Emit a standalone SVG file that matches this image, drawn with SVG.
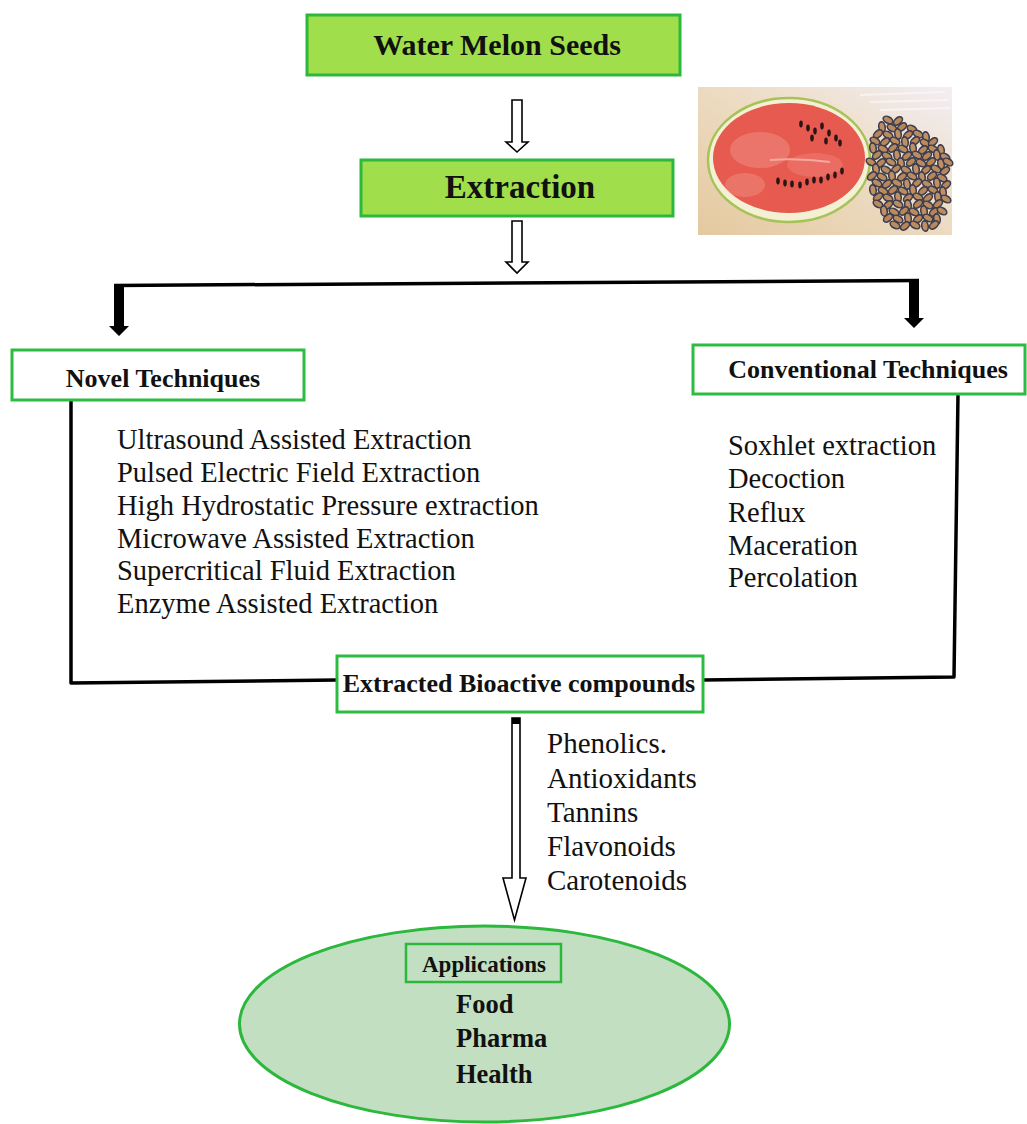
<svg xmlns="http://www.w3.org/2000/svg" xmlns:xlink="http://www.w3.org/1999/xlink" width="1027" height="1124" viewBox="0 0 1027 1124">
<style>
.t{font-family:"Liberation Serif","Times New Roman",serif;fill:#111}
.b{font-weight:bold}
.gbox{fill:#a0df4b;stroke:#2cb83c;stroke-width:3}
.obox{fill:#fff;stroke:#2cbd40;stroke-width:3}
.line{fill:none;stroke:#000;stroke-width:3.5;stroke-linejoin:round}
.hollow{fill:#fff;stroke:#000;stroke-width:1.6;stroke-linejoin:miter}
.solid{fill:#000}
</style>
<defs>
<linearGradient id="bg" x1="0" y1="1" x2="1" y2="0">
<stop offset="0" stop-color="#e4c99f"/>
<stop offset="0.55" stop-color="#eddcc4"/>
<stop offset="1" stop-color="#f3eef3"/>
</linearGradient>
<ellipse id="s1" rx="5.2" ry="3.2" transform="rotate(30)" fill="#bb8b60" stroke="#3d3d4d" stroke-width="1.6"/>
<ellipse id="s2" rx="5.2" ry="3.2" transform="rotate(-40)" fill="#b7865a" stroke="#3d3d4d" stroke-width="1.6"/>
<ellipse id="s3" rx="5.2" ry="3.2" transform="rotate(80)" fill="#c09064" stroke="#3d3d4d" stroke-width="1.6"/>
<ellipse id="ws" rx="1.8" ry="3.4" fill="#2a1414"/>
</defs>
<rect width="1027" height="1124" fill="#fff"/>

<g id="connectors">
<path class="hollow" d="M512,100 L522,100 L522,142 L528,142 L517,152 L506,142 L512,142 Z"/>
<path class="hollow" d="M512,221 L522,221 L522,262 L528,262 L517,273 L506,262 L512,262 Z"/>
<path class="line" d="M114,285.5 L919,280.5"/>
<path class="solid" d="M114,285 L124,285 L124,326 L129,326 L119,336 L109,326 L114,326 Z"/>
<path class="solid" d="M909,280 L919,280 L919,318 L924,318 L914,328 L904,318 L909,318 Z"/>
<path class="line" d="M71,400 L71,683 L337,680"/>
<path class="line" d="M958,394 L954,677 L703,680"/>
<path class="hollow" d="M512,718 L520,718 L520,878 L526,878 L514.5,920 L503,878 L512,878 Z" stroke-width="2"/>
<rect x="512" y="718" width="8" height="6" fill="#000"/>
</g>

<g id="node-seeds">
<rect class="gbox" x="307" y="15" width="373" height="60"/>
<text class="t b" x="497" y="55" font-size="30" text-anchor="middle">Water Melon Seeds</text>
</g>

<g id="node-extraction">
<rect class="gbox" x="361" y="160" width="312" height="56"/>
<text class="t b" x="520" y="198" font-size="33" text-anchor="middle">Extraction</text>
</g>

<g id="photo">
<rect x="698" y="87" width="254" height="148" fill="url(#bg)"/>
<path d="M860,95 L945,92 M870,102 L948,100 M880,110 L950,108" stroke="#fbf8fb" stroke-width="2" opacity="0.7"/>
<ellipse cx="789" cy="160" rx="81" ry="62" fill="#f3f0d4" stroke="#a8c25a" stroke-width="2.5"/>
<ellipse cx="789" cy="158" rx="76" ry="55" fill="#e65a4f"/>
<ellipse cx="760" cy="150" rx="30" ry="18" fill="#f08c84" opacity="0.55"/>
<ellipse cx="815" cy="165" rx="28" ry="12" fill="#ef8279" opacity="0.45"/>
<ellipse cx="745" cy="185" rx="20" ry="12" fill="#f29a90" opacity="0.4"/>
<path d="M770,160 Q800,158 830,162" stroke="#f5aaa0" stroke-width="2" fill="none"/>
<use href="#ws" x="801" y="124"/><use href="#ws" x="808" y="128"/><use href="#ws" x="815" y="131"/>
<use href="#ws" x="822" y="126"/><use href="#ws" x="829" y="133"/><use href="#ws" x="836" y="138"/>
<use href="#ws" x="812" y="138"/><use href="#ws" x="826" y="141"/><use href="#ws" x="840" y="143"/>
<use href="#ws" x="778" y="181"/><use href="#ws" x="785" y="183"/><use href="#ws" x="792" y="184"/>
<use href="#ws" x="800" y="185"/><use href="#ws" x="807" y="182"/><use href="#ws" x="814" y="180"/>
<use href="#ws" x="821" y="180"/><use href="#ws" x="828" y="177"/><use href="#ws" x="835" y="175"/>
<use href="#ws" x="842" y="171"/>
<g>
<use href="#s1" x="888" y="120"/><use href="#s2" x="898" y="121"/>
<use href="#s3" x="882" y="127"/><use href="#s1" x="892" y="128"/><use href="#s2" x="902" y="127"/><use href="#s1" x="912" y="129"/>
<use href="#s2" x="878" y="134"/><use href="#s1" x="888" y="135"/><use href="#s3" x="898" y="134"/><use href="#s2" x="908" y="135"/><use href="#s1" x="918" y="134"/><use href="#s3" x="926" y="137"/>
<use href="#s1" x="875" y="141"/><use href="#s2" x="885" y="142"/><use href="#s1" x="895" y="141"/><use href="#s3" x="905" y="142"/><use href="#s2" x="915" y="141"/><use href="#s1" x="925" y="143"/><use href="#s2" x="933" y="142"/>
<use href="#s3" x="873" y="148"/><use href="#s1" x="883" y="149"/><use href="#s2" x="893" y="148"/><use href="#s1" x="903" y="149"/><use href="#s3" x="913" y="148"/><use href="#s2" x="923" y="150"/><use href="#s1" x="933" y="149"/><use href="#s3" x="941" y="150"/>
<use href="#s2" x="877" y="155"/><use href="#s1" x="887" y="156"/><use href="#s3" x="897" y="155"/><use href="#s2" x="907" y="156"/><use href="#s1" x="917" y="155"/><use href="#s2" x="927" y="156"/><use href="#s3" x="937" y="155"/><use href="#s1" x="945" y="157"/>
<use href="#s1" x="871" y="162"/><use href="#s2" x="881" y="163"/><use href="#s1" x="891" y="162"/><use href="#s3" x="901" y="163"/><use href="#s2" x="911" y="162"/><use href="#s1" x="921" y="163"/><use href="#s2" x="931" y="162"/><use href="#s3" x="941" y="164"/><use href="#s1" x="948" y="162"/>
<use href="#s3" x="876" y="169"/><use href="#s1" x="886" y="170"/><use href="#s2" x="896" y="169"/><use href="#s1" x="906" y="170"/><use href="#s3" x="916" y="169"/><use href="#s2" x="926" y="170"/><use href="#s1" x="936" y="169"/><use href="#s2" x="945" y="171"/>
<use href="#s2" x="872" y="176"/><use href="#s1" x="882" y="177"/><use href="#s3" x="892" y="176"/><use href="#s2" x="902" y="177"/><use href="#s1" x="912" y="176"/><use href="#s3" x="922" y="177"/><use href="#s2" x="932" y="176"/><use href="#s1" x="942" y="178"/>
<use href="#s1" x="877" y="183"/><use href="#s2" x="887" y="184"/><use href="#s1" x="897" y="183"/><use href="#s3" x="907" y="184"/><use href="#s2" x="917" y="183"/><use href="#s1" x="927" y="184"/><use href="#s3" x="937" y="183"/><use href="#s2" x="946" y="185"/>
<use href="#s3" x="873" y="190"/><use href="#s1" x="883" y="191"/><use href="#s2" x="893" y="190"/><use href="#s1" x="903" y="191"/><use href="#s3" x="913" y="190"/><use href="#s2" x="923" y="191"/><use href="#s1" x="933" y="190"/><use href="#s3" x="943" y="192"/>
<use href="#s2" x="878" y="197"/><use href="#s1" x="888" y="198"/><use href="#s3" x="898" y="197"/><use href="#s2" x="908" y="198"/><use href="#s1" x="918" y="197"/><use href="#s2" x="928" y="198"/><use href="#s3" x="938" y="197"/><use href="#s1" x="946" y="199"/>
<use href="#s1" x="878" y="204"/><use href="#s2" x="888" y="205"/><use href="#s1" x="898" y="204"/><use href="#s3" x="908" y="205"/><use href="#s2" x="918" y="204"/><use href="#s1" x="928" y="205"/><use href="#s2" x="938" y="204"/>
<use href="#s3" x="884" y="211"/><use href="#s1" x="894" y="212"/><use href="#s2" x="904" y="211"/><use href="#s1" x="914" y="212"/><use href="#s3" x="924" y="211"/><use href="#s2" x="934" y="212"/><use href="#s1" x="942" y="211"/>
<use href="#s2" x="888" y="218"/><use href="#s1" x="898" y="219"/><use href="#s3" x="908" y="218"/><use href="#s2" x="918" y="219"/><use href="#s1" x="928" y="218"/><use href="#s3" x="937" y="219"/>
<use href="#s1" x="895" y="225"/><use href="#s2" x="905" y="226"/><use href="#s1" x="915" y="225"/><use href="#s3" x="925" y="226"/><use href="#s2" x="934" y="225"/>
</g>
</g>

<g id="node-novel">
<rect class="obox" x="12" y="350" width="292" height="50"/>
<text class="t b" x="163" y="387" font-size="26" text-anchor="middle">Novel Techniques</text>
</g>

<g id="node-conventional">
<rect class="obox" x="693" y="345" width="332" height="49"/>
<text class="t b" x="868" y="378" font-size="26" text-anchor="middle">Conventional Techniques</text>
</g>

<g id="novel-list" class="t" font-size="28.5">
<text class="t" x="117" y="449">Ultrasound Assisted Extraction</text>
<text class="t" x="117" y="482">Pulsed Electric Field Extraction</text>
<text class="t" x="117" y="515">High Hydrostatic Pressure extraction</text>
<text class="t" x="117" y="548">Microwave Assisted Extraction</text>
<text class="t" x="117" y="580">Supercritical Fluid Extraction</text>
<text class="t" x="117" y="613">Enzyme Assisted Extraction</text>
</g>

<g id="conventional-list" class="t" font-size="28.5">
<text class="t" x="728" y="455">Soxhlet extraction</text>
<text class="t" x="728" y="488">Decoction</text>
<text class="t" x="728" y="522">Reflux</text>
<text class="t" x="728" y="555">Maceration</text>
<text class="t" x="728" y="587">Percolation</text>
</g>

<g id="node-extracted">
<rect class="obox" x="337" y="656" width="366" height="56"/>
<text class="t b" x="519" y="692" font-size="26" text-anchor="middle">Extracted Bioactive compounds</text>
</g>

<g id="compounds-list" class="t" font-size="29">
<text class="t" x="547" y="753">Phenolics.</text>
<text class="t" x="547" y="788">Antioxidants</text>
<text class="t" x="547" y="822">Tannins</text>
<text class="t" x="547" y="856">Flavonoids</text>
<text class="t" x="547" y="890">Carotenoids</text>
</g>

<g id="node-applications">
<ellipse cx="484.5" cy="1024" rx="245" ry="98" fill="#c2dfc2" stroke="#2cb83c" stroke-width="3"/>
<rect x="406" y="944" width="155" height="38" fill="none" stroke="#2cb83c" stroke-width="2.5"/>
<text class="t b" x="484" y="972" font-size="23" text-anchor="middle">Applications</text>
<text class="t b" x="456" y="1013" font-size="26.5">Food</text>
<text class="t b" x="456" y="1047" font-size="26.5">Pharma</text>
<text class="t b" x="456" y="1083" font-size="26.5">Health</text>
</g>
</svg>
